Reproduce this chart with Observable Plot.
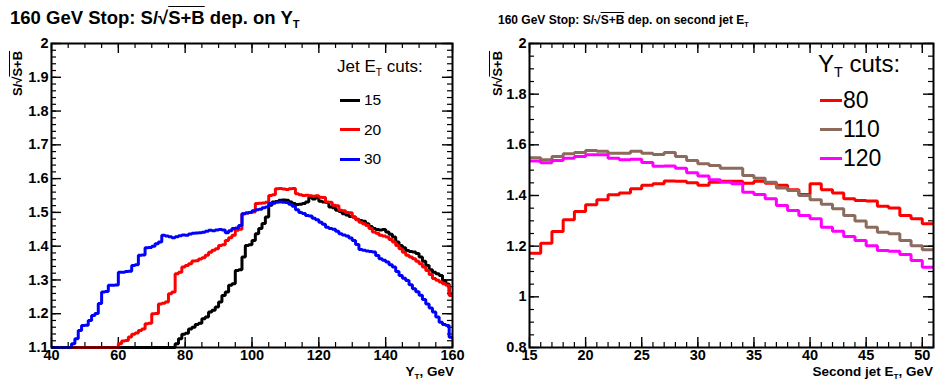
<!DOCTYPE html>
<html><head><meta charset="utf-8">
<script src="https://cdn.jsdelivr.net/npm/d3@7"></script>
<script src="https://cdn.jsdelivr.net/npm/@observablehq/plot@0.6"></script>
<style>
body{margin:0;background:#fff;}
#wrap{position:relative;width:935px;height:381px;overflow:hidden;font-family:"Liberation Sans",Arial,sans-serif;background:#fff;}
.panel{position:absolute;top:0;}
.t{position:absolute;white-space:nowrap;color:#000;line-height:1;}
.b{font-weight:bold;}
.ov{text-decoration:overline;}
.sb{font-size:0.6em;position:relative;top:0.35em;}
.sw{position:absolute;height:3px;}
</style></head><body><div id="wrap">
<div id="left" class="panel" style="left:0"></div>
<div id="right" class="panel" style="left:470px"></div>

<div class="t b" style="left:10px;top:9px;font-size:18.5px;">160 GeV Stop: S/√<span class="ov">S+B</span> dep. on Y<span class="sb">T</span></div>
<div class="t b" style="left:498px;top:14px;font-size:12px;">160 GeV Stop: S/√<span class="ov">S+B</span> dep. on second jet E<span class="sb">T</span></div>

<div class="t b" style="left:11px;top:96px;font-size:13px;transform-origin:0 0;transform:rotate(-90deg);">S/√<span class="ov">S+B</span></div>
<div class="t b" style="left:491px;top:96px;font-size:13px;transform-origin:0 0;transform:rotate(-90deg);">S/√<span class="ov">S+B</span></div>

<div class="t b" style="right:481px;top:365px;font-size:13.5px;">Y<span class="sb">T</span>, GeV</div>
<div class="t b" style="right:2px;top:365px;font-size:13.5px;">Second jet E<span class="sb">T</span>, GeV</div>

<div id="legL"></div>
<div id="legR"></div>
</div>
<script>
// ---------- data ----------
const leftStart = 40;              // first bin edge (Y_T, GeV), bin width 1
const leftEnd = 160;
const jetCuts = ["15", "20", "30"];
const jetColors = ["#000000", "#ff0000", "#0000ff"];
const jet15 = [
 1.1,1.1,1.1,1.1,1.1,1.1,1.1,1.1,1.1,1.1,
 1.1,1.1,1.1,1.1,1.1,1.1,1.1,1.1,1.1,1.1,
 1.1,1.1,1.1,1.1,1.1,1.1,1.1,1.1,1.1,1.1,
 1.1,1.1,1.1,1.1,1.1,1.1,1.1,
 1.111,1.126,1.139,1.142,1.155,1.160,1.168,1.172,1.185,1.190,
 1.205,1.210,1.220,1.235,1.254,1.264,1.284,1.289,1.328,1.330,
 1.368,1.402,1.404,1.417,1.437,1.452,1.467,1.486,1.521,1.531,
 1.532,1.536,1.537,1.536,1.531,1.526,1.523,1.524,1.526,1.531,
 1.545,1.540,1.543,1.533,1.531,1.529,1.516,1.514,1.506,1.503,
 1.496,1.492,1.488,1.486,1.480,1.476,1.474,1.466,1.458,1.452,
 1.449,1.448,1.449,1.442,1.435,1.427,1.412,1.402,1.395,1.387,
 1.384,1.383,1.378,1.368,1.355,1.343,1.330,1.323,1.318,1.313,
 1.298,1.288,1.258
];
const jet20 = [
 1.1,1.1,1.1,1.1,1.1,1.1,1.1,1.1,1.1,1.1,
 1.1,1.1,1.1,1.1,1.1,1.1,1.1,1.1,1.1,1.1,
 1.111,1.119,1.121,1.131,1.139,1.143,1.150,1.155,1.170,1.172,
 1.200,1.201,1.229,1.231,1.235,1.259,1.264,1.318,1.323,1.338,
 1.343,1.348,1.356,1.357,1.362,1.366,1.373,1.382,1.388,1.392,
 1.402,1.404,1.417,1.425,1.432,1.447,1.450,1.496,1.498,1.500,
 1.501,1.526,1.527,1.528,1.530,1.550,1.552,1.570,1.571,1.569,
 1.568,1.570,1.571,1.555,1.552,1.550,1.551,1.549,1.548,1.549,
 1.545,1.544,1.531,1.530,1.521,1.520,1.506,1.505,1.500,1.499,
 1.486,1.478,1.471,1.466,1.461,1.452,1.442,1.438,1.432,1.430,
 1.427,1.420,1.412,1.402,1.392,1.382,1.373,1.368,1.363,1.355,
 1.348,1.338,1.328,1.316,1.304,1.299,1.294,1.289,1.284,1.254
];
const jet30 = [
 1.1,1.1,1.1,1.1,1.1,1.1,
 1.111,1.126,1.150,1.165,1.166,1.180,1.195,1.201,1.230,1.264,
 1.266,1.284,1.284,1.285,1.323,1.323,1.325,1.326,1.343,1.345,
 1.373,1.374,1.395,1.396,1.400,1.407,1.412,1.432,1.430,1.428,
 1.425,1.428,1.431,1.433,1.432,1.436,1.438,1.439,1.440,1.441,
 1.444,1.447,1.446,1.448,1.449,1.448,1.440,1.446,1.452,1.454,
 1.461,1.496,1.498,1.500,1.505,1.508,1.509,1.514,1.516,1.526,
 1.527,1.530,1.531,1.530,1.529,1.524,1.518,1.508,1.500,1.497,
 1.491,1.489,1.483,1.478,1.471,1.465,1.456,1.452,1.450,1.444,
 1.437,1.433,1.430,1.424,1.417,1.405,1.390,1.388,1.386,1.384,
 1.383,1.372,1.363,1.358,1.353,1.345,1.338,1.325,1.313,1.305,
 1.298,1.286,1.274,1.265,1.255,1.242,1.229,1.217,1.205,1.190,
 1.175,1.168,1.165,1.130
];

const rightStart = 15;             // second jet E_T, bin width 1
const rightEnd = 51;
const ytCuts = ["80", "110", "120"];
const ytColors = ["#ff0000", "#8c6a5c", "#ff00ff"];
const yt80 = [
 1.172,1.212,1.258,1.304,1.337,1.363,1.383,1.403,1.410,1.427,
 1.440,1.446,1.457,1.456,1.450,1.440,1.452,1.456,1.456,1.448,
 1.456,1.448,1.440,1.423,1.404,1.446,1.423,1.410,1.387,1.380,
 1.378,1.358,1.351,1.321,1.308,1.288
];
const yt110 = [
 1.549,1.541,1.554,1.565,1.570,1.578,1.575,1.567,1.567,1.575,
 1.567,1.562,1.570,1.554,1.538,1.525,1.518,1.508,1.508,1.479,
 1.468,1.452,1.430,1.420,1.400,1.383,1.365,1.348,1.321,1.299,
 1.275,1.255,1.249,1.222,1.202,1.186
];
const yt120 = [
 1.536,1.529,1.538,1.547,1.554,1.561,1.561,1.547,1.541,1.543,
 1.530,1.515,1.516,1.508,1.490,1.477,1.462,1.452,1.446,1.413,
 1.404,1.387,1.361,1.341,1.321,1.308,1.275,1.259,1.238,1.222,
 1.202,1.183,1.180,1.167,1.143,1.117
];

// tick labels
const leftXTicks = [40, 60, 80, 100, 120, 140, 160];
const leftYTicks = [1.1, 1.2, 1.3, 1.4, 1.5, 1.6, 1.7, 1.8, 1.9, 2];
const rightXTicks = [15, 20, 25, 30, 35, 40, 45, 50];
const rightYTicks = [0.8, 1, 1.2, 1.4, 1.6, 1.8, 2];

// ---------- drawing ----------
const H = 381;
function stepData(start, vals) {
  const pts = vals.map((v, i) => ({x: start + i, y: v}));
  pts.push({x: start + vals.length, y: vals[vals.length - 1]});
  return pts;
}
function minorTicks(lo, hi, step) {
  const n = Math.round((hi - lo) / step);
  return d3.range(n + 1).map(i => +(lo + i * step).toFixed(4));
}
function panel(o) {
  const fh = H - o.mt - o.mb, fw = o.w - o.ml - o.mr;
  const tickMarks = (xs, ys, len, sw) => [
    Plot.tickX(xs, {x: d => d, insetTop: fh - len, stroke: "#000", strokeWidth: sw}),
    Plot.tickX(xs, {x: d => d, insetBottom: fh - len, stroke: "#000", strokeWidth: sw}),
    Plot.tickY(ys, {y: d => d, insetRight: fw - len, stroke: "#000", strokeWidth: sw}),
    Plot.tickY(ys, {y: d => d, insetLeft: fw - len, stroke: "#000", strokeWidth: sw})
  ];
  const lines = o.series.map((s, i) =>
    Plot.line(stepData(o.start, s), {x: "x", y: "y", curve: "step-after", stroke: o.colors[i], strokeWidth: 3, strokeLinejoin: "miter", strokeLinecap: "butt"}));
  return Plot.plot({
    width: o.w, height: H,
    marginLeft: o.ml, marginRight: o.mr, marginTop: o.mt, marginBottom: o.mb,
    x: {domain: o.xd, ticks: o.xt, tickSize: 0, tickPadding: 2, tickFormat: d => String(d), label: null},
    y: {domain: o.yd, ticks: o.yt, tickSize: 0, tickPadding: 3, tickFormat: d => String(d), label: null},
    style: {fontFamily: "'Liberation Sans', Arial, sans-serif", fontSize: "14.5px", fontWeight: "bold", background: "transparent", color: "#000", overflow: "visible"},
    marks: [
      ...tickMarks(o.xMinor, o.yMinor, 5, 1.2),
      ...tickMarks(o.xt, o.yt, 10, 1.4),
      ...lines,
      Plot.frame({stroke: "#000", strokeWidth: 2})
    ]
  });
}

document.getElementById("left").append(panel({
  w: 470, ml: 51, mr: 18, mt: 43, mb: 34,
  xd: [leftStart, leftEnd], yd: [1.1, 2],
  xt: leftXTicks, yt: leftYTicks,
  xMinor: minorTicks(40, 160, 5), yMinor: minorTicks(1.1, 2, 0.02),
  start: leftStart, series: [jet15, jet20, jet30], colors: jetColors
}));
document.getElementById("right").append(panel({
  w: 465, ml: 59, mr: 2, mt: 43, mb: 34,
  xd: [rightStart, rightEnd], yd: [0.8, 2],
  xt: rightXTicks, yt: rightYTicks,
  xMinor: minorTicks(15, 51, 1), yMinor: minorTicks(0.8, 2, 0.05),
  start: rightStart, series: [yt80, yt110, yt120], colors: ytColors
}));

// legends
function legend(el, cfg) {
  const root = document.getElementById(el);
  const h = document.createElement("div");
  h.className = "t"; h.style.left = cfg.hx + "px"; h.style.top = cfg.hy + "px"; h.style.fontSize = cfg.hs + "px";
  h.innerHTML = cfg.head;
  root.append(h);
  cfg.labels.forEach((lab, i) => {
    const y = cfg.y0 + i * cfg.dy;
    const sw = document.createElement("div");
    sw.className = "sw"; sw.style.left = cfg.lx + "px"; sw.style.width = cfg.lw + "px";
    sw.style.top = (y - 1.5) + "px"; sw.style.background = cfg.colors[i];
    root.append(sw);
    const t = document.createElement("div");
    t.className = "t"; t.style.left = cfg.tx + "px"; t.style.top = (y - cfg.ts * 0.5) + "px"; t.style.fontSize = cfg.ts + "px";
    t.textContent = lab;
    root.append(t);
  });
}
legend("legL", {head: 'Jet E<span class="sb">T</span> cuts:', hx: 337, hy: 58, hs: 17,
  labels: jetCuts, colors: jetColors, y0: 100, dy: 29.5, lx: 340, lw: 20, tx: 364, ts: 15.5});
legend("legR", {head: 'Y<span class="sb">T</span> cuts:', hx: 818, hy: 52, hs: 24,
  labels: ytCuts, colors: ytColors, y0: 100, dy: 29, lx: 820, lw: 22, tx: 843, ts: 23});
</script>
</body></html>
